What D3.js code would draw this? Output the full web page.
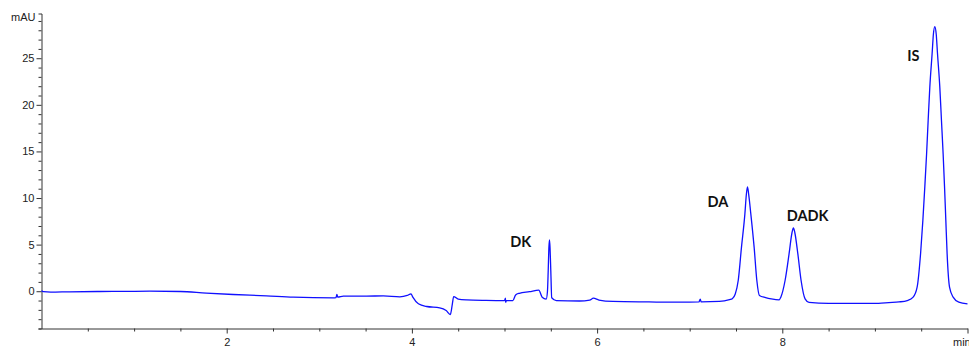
<!DOCTYPE html>
<html>
<head>
<meta charset="utf-8">
<script src="https://cdn.jsdelivr.net/npm/d3@7/dist/d3.min.js"></script>
<style>
  html, body { margin: 0; padding: 0; background: #fff; }
  svg { display: block; }
  .tick text { font-family: "Liberation Sans", Arial, sans-serif; font-size: 11px; fill: #222; }
  .peak-label { font-family: Lato, "Open Sans", sans-serif; font-weight: 700; font-size: 14.5px; fill: #111; }
</style>
</head>
<body>
<svg id="chart" width="969" height="346"></svg>
<script>
// Chromatogram trace: retention time (min) and detector signal (mAU)
const retentionTime = [
  0.00, 0.02, 0.10, 0.30, 0.63, 0.90, 1.17, 1.50, 1.78, 2.07,
  2.43, 2.72, 3.15, 3.18, 3.19, 3.20, 3.26, 3.51, 3.69, 3.87,
  3.95, 3.99, 4.01, 4.07, 4.16, 4.30, 4.37, 4.415, 4.437, 4.451,
  4.50, 4.59, 4.80, 5.00, 5.01, 5.012, 5.02, 5.09, 5.12, 5.16,
  5.27, 5.37, 5.407, 5.45, 5.464, 5.472, 5.479, 5.486, 5.492, 5.500,
  5.510, 5.56, 5.81, 5.92, 5.96, 6.02, 6.17, 6.56, 6.89, 7.10,
  7.114, 7.124, 7.32, 7.43, 7.46, 7.492, 7.524, 7.559, 7.596, 7.612,
  7.624, 7.637, 7.660, 7.696, 7.725, 7.753, 7.82, 7.88, 7.966, 7.984,
  8.030, 8.073, 8.105, 8.120, 8.135, 8.168, 8.203, 8.246, 8.289, 8.50,
  9.04, 9.15, 9.26, 9.349, 9.413, 9.456, 9.493, 9.518, 9.539, 9.558,
  9.575, 9.593, 9.618, 9.632, 9.647, 9.662, 9.676, 9.701, 9.719, 9.737,
  9.752, 9.766, 9.780, 9.806, 9.845, 9.906, 10.00
];
const absorbance = [
  0.05, -0.05, -0.10, -0.06, -0.03, -0.02, 0.00, -0.03, -0.21, -0.35,
  -0.50, -0.64, -0.71, -0.68, -0.35, -0.64, -0.53, -0.53, -0.50, -0.60,
  -0.45, -0.28, -0.64, -1.35, -1.64, -1.78, -2.07, -2.50, -1.35, -0.57,
  -0.85, -0.93, -0.98, -1.00, -0.75, -1.20, -1.00, -1.00, -0.40, -0.22,
  -0.05, 0.12, -0.64, -0.85, 0.00, 2.20, 4.60, 5.50, 4.60, 2.20,
  -0.70, -1.00, -1.05, -0.95, -0.75, -0.95, -1.10, -1.15, -1.18, -1.15,
  -0.85, -1.15, -1.10, -0.90, -0.80, -0.30, 1.15, 4.70, 8.30, 10.40,
  11.20, 10.40, 8.30, 4.70, 1.15, -0.45, -0.68, -0.82, -0.93, -0.64,
  1.15, 4.00, 6.30, 6.80, 6.30, 4.00, 1.15, -0.82, -1.20, -1.30,
  -1.30, -1.22, -1.15, -1.00, -0.64, 0.43, 4.00, 7.60, 11.20, 14.70,
  18.30, 21.90, 25.50, 27.60, 28.40, 27.60, 25.50, 21.90, 18.30, 14.70,
  11.20, 7.60, 4.00, 0.43, -0.64, -1.18, -1.35
];

// Peak annotations: name, and the (time, signal) where the label's baseline starts
const peakNames = ["DK", "DA", "DADK", "IS"];
const labelTime = [5.062, 7.193, 8.048, 9.349];
const labelSignal = [4.72, 9.03, 7.58, 24.70];

// Axis ticks
const xMajorTicks = [2, 4, 6, 8, 10];
const xTickLabels = ["2", "4", "6", "8", "min"];
const yMajorTicks = [0, 5, 10, 15, 20, 25];
const yUnit = "mAU";

const svg = d3.select("#chart");
const x = d3.scaleLinear().domain([0, 10]).range([41.5, 967.5]);
const y = d3.scaleLinear().domain([-4, 29.8]).range([328.5, 13.5]);

const axisColor = "#333";

// Minor ticks
const xMinor = d3.range(0.5, 10, 0.5).filter(v => !xMajorTicks.includes(v));
const yMinor = d3.range(-4, 30, 1).filter(v => !yMajorTicks.includes(v));

const gx = svg.append("g").attr("transform", `translate(0,${y(-4)})`);
gx.call(d3.axisBottom(x).tickValues(xMinor).tickSize(3).tickSizeOuter(0).tickFormat(""));
gx.call(g => g.select(".domain").remove());
const gxMaj = svg.append("g").attr("transform", `translate(0,${y(-4)})`);
gxMaj.call(d3.axisBottom(x).tickValues(xMajorTicks).tickSize(5).tickSizeOuter(0)
  .tickPadding(5).tickFormat((d, i) => xTickLabels[i]));
// the unit label at the last tick sits to the left of its tick
gxMaj.selectAll(".tick text")
  .filter(d => d === 10)
  .attr("text-anchor", "start")
  .attr("dx", -15);
svg.selectAll("g path, g line").attr("stroke", axisColor);

const gy = svg.append("g").attr("transform", `translate(${x(0)},0)`);
gy.call(d3.axisLeft(y).tickValues(yMinor).tickSize(3).tickSizeOuter(3).tickFormat(""));
const gyMaj = svg.append("g").attr("transform", `translate(${x(0)},0)`);
gyMaj.call(d3.axisLeft(y).tickValues(yMajorTicks).tickSize(5).tickSizeOuter(0).tickPadding(2));
gyMaj.select(".domain").remove();
svg.selectAll("g path, g line").attr("stroke", axisColor);
svg.selectAll(".tick text").attr("fill", "#222");

// Unit label at the top of the signal axis
svg.append("text")
  .attr("x", x(0) - 6)
  .attr("y", 21)
  .attr("text-anchor", "end")
  .attr("font-family", "Liberation Sans, Arial, sans-serif")
  .attr("font-size", 11)
  .attr("fill", "#222")
  .text(yUnit);

// Trace
const points = retentionTime.map((t, i) => [t, absorbance[i]]);
const line = d3.line()
  .x(d => x(d[0]))
  .y(d => y(d[1]))
  .curve(d3.curveMonotoneX);

svg.append("path")
  .datum(points)
  .attr("fill", "none")
  .attr("stroke", "#1010ff")
  .attr("stroke-width", 1.3)
  .attr("stroke-linejoin", "round")
  .attr("d", line);

// Peak labels
svg.selectAll(".peak-label")
  .data(peakNames)
  .join("text")
  .attr("class", "peak-label")
  .attr("x", (d, i) => x(labelTime[i]))
  .attr("y", (d, i) => y(labelSignal[i]))
  .text(d => d);
</script>
</body>
</html>
